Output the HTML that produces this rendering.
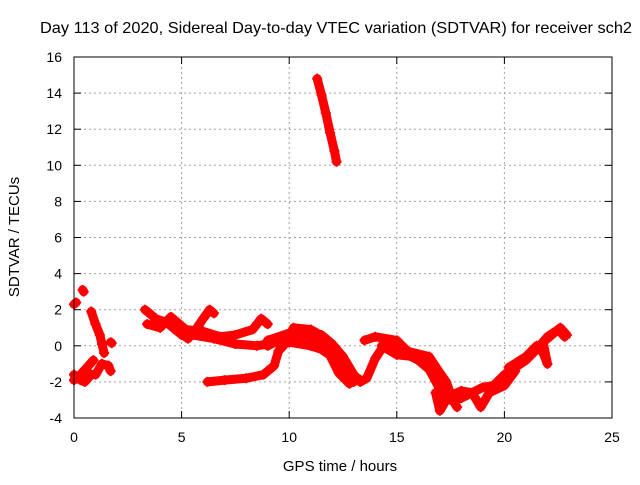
<!DOCTYPE html>
<html><head><meta charset="utf-8"><style>
body{margin:0;background:#fff;}
svg text{font-family:"Liberation Sans",Arial,sans-serif;font-size:14px;fill:#000;}
</style></head><body>
<svg id="chart" width="640" height="480" viewBox="0 0 640 480" xmlns="http://www.w3.org/2000/svg">
<rect width="640" height="480" fill="#fff"/>
<text x="40" y="33" style="font-size:16px" textLength="592" lengthAdjust="spacingAndGlyphs">Day 113 of 2020, Sidereal Day-to-day VTEC variation (SDTVAR) for receiver sch2</text>
<g id="grid"></g>
<g id="ticks"></g>
<g id="marks"></g>
<rect x="74" y="57" width="538" height="361" fill="none" stroke="#000" stroke-width="1"/>
<text x="340" y="471" text-anchor="middle" style="font-size:15px">GPS time / hours</text>
<text x="19" y="237" text-anchor="middle" style="font-size:15px" transform="rotate(-90 19 237)">SDTVAR / TECUs</text>
</svg>
<script>
const xTicks=[0,5,10,15,20,25];
const yTicks=[-4,-2,0,2,4,6,8,10,12,14,16];
const trackA=[[0,2.3],[0.1,2.4]];
const trackB=[[0.4,3.1],[0.45,3.0]];
const trackC=[[0.8,1.9],[1.0,1.2],[1.2,0.6],[1.3,0.1],[1.4,-0.4]];
const trackD=[[1.7,0.2],[1.75,0.15]];
const trackE=[[0,-1.6],[0.3,-1.9],[0.5,-2.0],[0.8,-1.6],[1.0,-1.6],[1.3,-1.0],[1.6,-1.1],[1.7,-1.4]];
const trackF=[[0,-1.9],[0.3,-1.6],[0.6,-1.2],[0.9,-0.8]];
const trackG=[[3.3,2.0],[3.8,1.5],[4.3,1.3],[4.8,0.8],[5.3,0.4],[5.6,0.8],[6.0,1.5],[6.3,2.0],[6.5,1.8]];
const trackH=[[3.4,1.2],[4.0,1.0],[4.5,1.6],[5.2,0.9],[6.0,0.8],[6.8,0.5],[7.5,0.6],[8.3,0.9],[8.7,1.5],[9.0,1.2]];
const trackI=[[5.0,0.6],[5.5,0.6],[6.5,0.4],[7.5,0.1],[8.5,0.0],[9.5,0.2]];
const trackJ=[[6.2,-2.0],[7.0,-1.9],[8.0,-1.8],[8.8,-1.6],[9.3,-1.1],[9.5,-0.3],[9.8,0.1],[10.5,0.6],[11.0,0.6]];
const trackK=[[9.0,0.0],[10.0,0.6],[10.5,0.9],[11.5,0.6],[12.0,0.1],[12.5,-0.6],[13.0,-1.6],[13.3,-2.0],[13.6,-1.8],[14.0,-0.7],[14.5,0.2],[15.0,0.0],[15.5,-0.5],[16.0,-0.8],[16.5,-1.3],[17.0,-2.4],[17.5,-3.0],[18.0,-2.9],[19.0,-2.3],[19.5,-2.2],[20.0,-1.6],[21.0,-0.8],[21.5,-0.2],[22.0,0.5],[22.5,0.9],[22.8,0.5]];
const trackL=[[9.0,0.3],[10.0,0.7],[11.0,0.5],[11.8,-0.3],[12.3,-1.5],[12.8,-2.1],[13.2,-1.8]];
const trackM=[[13.5,0.3],[14.0,0.5],[15.0,0.3],[15.5,-0.3],[16.5,-0.6],[17.0,-1.5],[17.3,-2.0],[17.6,-3.0],[17.8,-3.4]];
const trackN=[[16.8,-2.6],[17.0,-3.6],[17.4,-2.8],[18.0,-2.5],[18.5,-2.6],[18.9,-3.4],[19.3,-2.6],[20.0,-2.2],[20.5,-1.4]];
const trackO=[[20.2,-1.2],[21.0,-0.6],[21.5,0.0],[21.8,-0.4],[22.0,-1.0],[21.8,0.2],[22.3,0.7],[22.6,1.0],[22.9,0.6]];
const trackP=[[10.0,0.2],[11.0,0.0],[11.5,-0.2],[12.0,-0.6],[12.4,-0.9]];
const trackQ=[[10.2,1.0],[11.0,0.9],[11.6,0.5],[12.2,-0.3],[12.6,-1.2],[13.0,-2.0]];
const trackR=[[14.3,0.0],[15.0,-0.5],[15.8,-0.6],[16.5,-1.0],[17.0,-1.9],[17.2,-3.0]];
const spike=[[11.3,14.8],[11.5,13.9],[11.7,12.9],[11.9,11.8],[12.1,10.8],[12.2,10.2]];
const tracks=[trackA,trackB,trackC,trackD,trackE,trackF,trackG,trackH,trackI,trackJ,trackK,trackL,trackM,trackN,trackO,trackP,trackQ,trackR,spike];

const X=h=>74+h*(538/25);
const Y=v=>57+(16-v)*(361/20);
const NS="http://www.w3.org/2000/svg";
const grid=document.getElementById('grid'),ticks=document.getElementById('ticks'),marks=document.getElementById('marks');
function mk(tag,attrs,parent){const e=document.createElementNS(NS,tag);for(const k in attrs)e.setAttribute(k,attrs[k]);parent.appendChild(e);return e;}
xTicks.forEach(t=>{
  const x=X(t);
  if(t>0&&t<25){const g=mk('line',{x1:x,y1:57,x2:x,y2:418,stroke:'#a0a0a0','stroke-dasharray':'2,3'},grid);
  
  }
  mk('line',{x1:x,y1:418,x2:x,y2:411,stroke:'#000'},ticks);
  mk('line',{x1:x,y1:57,x2:x,y2:64,stroke:'#000'},ticks);
  const tx=mk('text',{x:x,y:442,'text-anchor':'middle'},ticks);tx.textContent=t;
  
  
});
yTicks.forEach(t=>{
  const y=Y(t);
  if(t>-4&&t<16){const g=mk('line',{x1:74,y1:y,x2:612,y2:y,stroke:'#a0a0a0','stroke-dasharray':'2,3'},grid);
  
  }
  mk('line',{x1:74,y1:y,x2:81,y2:y,stroke:'#000'},ticks);
  mk('line',{x1:612,y1:y,x2:605,y2:y,stroke:'#000'},ticks);
  const tx=mk('text',{x:62,y:y+5,'text-anchor':'end'},ticks);tx.textContent=t;
  
  
});
tracks.forEach(tr=>{
  const pl=mk('polyline',{points:tr.map(p=>X(p[0])+','+Y(p[1])).join(' '),fill:'none',stroke:'#ff0000','stroke-width':9,'stroke-linejoin':'round','stroke-linecap':'round'},marks);
  
  
  tr.forEach(p=>{
    const x=X(p[0]),y=Y(p[1]);
    const c=mk('path',{d:`M${x-5},${y}H${x+5}M${x},${y-5}V${y+5}`,stroke:'#ff0000','stroke-width':2},marks);
    
    
  });
});
</script>
</body></html>
